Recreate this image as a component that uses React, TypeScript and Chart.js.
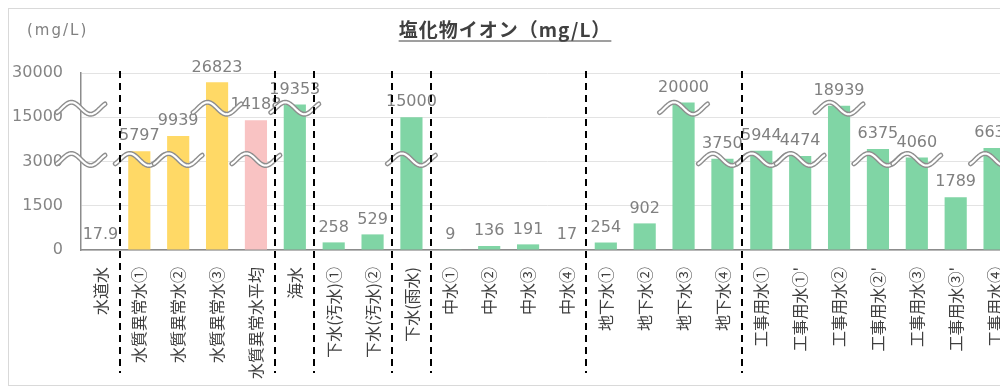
import React, { useEffect, useRef } from 'react';
import { Chart, registerables, LinearScale } from 'chart.js';

Chart.register(...registerables);

// ---- data ----
const CATEGORIES = [
  '水道水', '水質異常水①', '水質異常水②', '水質異常水③', '水質異常水平均', '海水',
  '下水(汚水)①', '下水(汚水)②', '下水(雨水)', '中水①', '中水②', '中水③', '中水④',
  '地下水①', '地下水②', '地下水③', '地下水④', '工事用水①', "工事用水①'", '工事用水②',
  "工事用水②'", '工事用水③', "工事用水③'", '工事用水④',
];
const VALUES = [
  17.9, 5797, 9939, 26823, 14188, 19353, 258, 529, 15000, 9, 136, 191, 17,
  254, 902, 20000, 3750, 5944, 4474, 18939, 6375, 4060, 1789, 6637,
];
// colour group of each bar: 'abn' = abnormal water, 'avg' = abnormal average, 'std' = other
const GROUPS = [
  'std', 'abn', 'abn', 'abn', 'avg', 'std', 'std', 'std', 'std', 'std', 'std', 'std', 'std',
  'std', 'std', 'std', 'std', 'std', 'std', 'std', 'std', 'std', 'std', 'std',
];
const Y_TICKS = [0, 1500, 3000, 15000, 30000];
const SCALE_BREAKS = [3000, 15000];
const SEPARATORS_AFTER = [0, 4, 5, 7, 8, 12, 16];
const TITLE = '塩化物イオン（mg/L）';
const UNIT = '(mg/L)';

const COLORS: Record<string, string> = { abn: '#FFD966', avg: '#F9C3C3', std: '#80D5A5' };

// ---- piecewise ("broken") linear scale ----
class BrokenScale extends LinearScale {
  static id = 'broken';
  static defaults = {};
  buildTicks() {
    return Y_TICKS.map((value) => ({ value }));
  }
  frac(v: number) {
    const t = Y_TICKS;
    const n = t.length - 1;
    if (v <= t[0]) return 0;
    for (let i = 0; i < n; i++) {
      if (v <= t[i + 1]) return (i + (v - t[i]) / (t[i + 1] - t[i])) / n;
    }
    return 1;
  }
  getPixelForValue(v: any) {
    if (v === null || v === undefined || isNaN(v)) return NaN;
    return this.getPixelForDecimal(this.frac(+v));
  }
  getValueForPixel(p: number) {
    const t = Y_TICKS;
    const n = t.length - 1;
    const d = Math.max(0, Math.min(1, this.getDecimalForPixel(p))) * n;
    const i = Math.min(Math.floor(d), n - 1);
    return t[i] + (d - i) * (t[i + 1] - t[i]);
  }
}
Chart.register(BrokenScale as any);

function drawWave(ctx: CanvasRenderingContext2D, cx: number, cy: number) {
  const w = 48;
  const a = 6;
  ctx.beginPath();
  const steps = 48;
  for (let i = 0; i <= steps; i++) {
    const u = i / steps;
    const ph = -Math.PI / 4 + u * 2.5 * Math.PI;
    const px = cx - w / 2 + u * w;
    const py = cy - a * Math.sin(ph);
    if (i === 0) ctx.moveTo(px, py);
    else ctx.lineTo(px, py);
  }
  ctx.lineCap = 'round';
  ctx.lineJoin = 'round';
  ctx.strokeStyle = '#8e8e8e';
  ctx.lineWidth = 5;
  ctx.stroke();
  ctx.strokeStyle = '#ffffff';
  ctx.lineWidth = 2.2;
  ctx.stroke();
}

const overlayPlugin = {
  id: 'overlay',
  afterDatasetsDraw(chart: any) {
    const { ctx, chartArea } = chart;
    const x = chart.scales.x;
    const y = chart.scales.y;
    const meta = chart.getDatasetMeta(0);
    ctx.save();

    // value labels
    ctx.font = '16px "DejaVu Sans"';
    ctx.fillStyle = '#808080';
    ctx.textAlign = 'center';
    ctx.textBaseline = 'bottom';
    meta.data.forEach((bar: any, i: number) => {
      ctx.fillText(String(VALUES[i]), bar.x, bar.y - 7);
    });

    // break marks
    const waveY = (k: number) => y.getPixelForValue(SCALE_BREAKS[k]) - (k === 0 ? 2 : 9);
    SCALE_BREAKS.forEach((_, k) => drawWave(ctx, chartArea.left, waveY(k)));
    meta.data.forEach((bar: any, i: number) => {
      const v = VALUES[i];
      if (v > SCALE_BREAKS[1]) drawWave(ctx, bar.x, waveY(1));
      else if (v > SCALE_BREAKS[0]) drawWave(ctx, bar.x, waveY(0));
    });

    // dashed group separators
    ctx.strokeStyle = '#000000';
    ctx.lineWidth = 2;
    ctx.setLineDash([7, 5]);
    ctx.lineCap = 'butt';
    SEPARATORS_AFTER.forEach((i) => {
      const px = Math.round((x.getPixelForValue(i) + x.getPixelForValue(i + 1)) / 2);
      ctx.beginPath();
      ctx.moveTo(px, chartArea.top - 2);
      ctx.lineTo(px, chartArea.bottom + 123);
      ctx.stroke();
    });
    ctx.setLineDash([]);

    // title (underlined)
    ctx.font = 'bold 19px "Noto Sans CJK JP"';
    (ctx as any).letterSpacing = '1px';
    ctx.fillStyle = '#404040';
    ctx.textAlign = 'center';
    ctx.textBaseline = 'middle';
    const tx = 496;
    const ty = 21;
    ctx.fillText(TITLE, tx, ty);
    const tw = ctx.measureText(TITLE).width;
    ctx.strokeStyle = '#404040';
    ctx.lineWidth = 1.2;
    ctx.beginPath();
    ctx.moveTo(tx - tw / 2, ty + 11);
    ctx.lineTo(tx + tw / 2, ty + 11);
    ctx.stroke();

    // unit
    (ctx as any).letterSpacing = '2px';
    ctx.font = '15px "DejaVu Sans"';
    ctx.fillStyle = '#808080';
    ctx.textAlign = 'left';
    ctx.fillText(UNIT, 18, 22);
    (ctx as any).letterSpacing = '0px';

    ctx.restore();
  },
};

export default function App() {
  const ref = useRef<HTMLCanvasElement>(null);
  useEffect(() => {
    const chart = new Chart(ref.current as HTMLCanvasElement, {
      type: 'bar',
      data: {
        labels: CATEGORIES,
        datasets: [
          {
            data: VALUES,
            backgroundColor: GROUPS.map((g) => COLORS[g]),
            borderWidth: 0,
            barPercentage: 0.57,
            categoryPercentage: 1,
          },
        ],
      },
      options: {
        animation: false,
        responsive: false,
        devicePixelRatio: 1,
        layout: { padding: { top: 64, right: 15, left: 0, bottom: 0 } },
        plugins: { legend: { display: false }, title: { display: false }, tooltip: { enabled: false } },
        scales: {
          x: {
            grid: { display: false },
            border: { display: true, color: '#8c8c8c', width: 1.5 },
            ticks: {
              autoSkip: false,
              minRotation: 90,
              maxRotation: 90,
              padding: 9,
              color: '#3f3f3f',
              font: { family: '"Noto Sans CJK JP"', size: 16 },
            },
            afterFit: (s: any) => {
              s.height = 135;
            },
          },
          y: {
            type: 'broken' as any,
            min: 0,
            max: 30000,
            grid: { color: '#e3e3e3', drawTicks: false },
            border: { display: true, color: '#8c8c8c', width: 1.5 },
            ticks: {
              padding: 18,
              color: '#858585',
              font: { family: '"DejaVu Sans"', size: 16 },
              callback: (v: any) => String(v),
            },
            afterFit: (s: any) => {
              s.width = 72;
            },
          },
        },
      },
      plugins: [overlayPlugin],
    } as any);
    return () => chart.destroy();
  }, []);
  return (
    <div style={{ width: 1000, height: 379, overflow: 'hidden' }}>
      <div
        style={{
          width: 1020,
          height: 376,
          border: '1px solid #d9d9d9',
          background: '#ffffff',
        }}
      >
        <canvas ref={ref} width={1020} height={376} style={{ display: 'block', width: 1020, height: 376 }} />
      </div>
    </div>
  );
}
